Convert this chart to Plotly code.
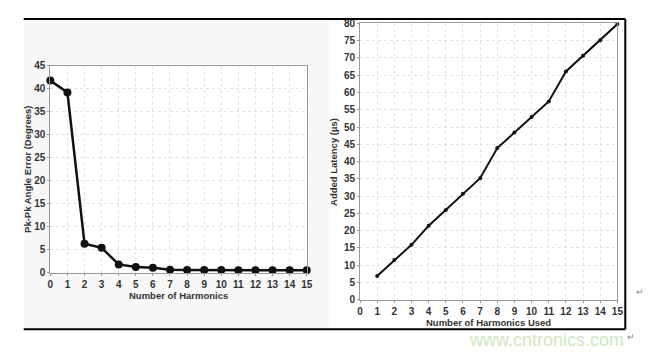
import plotly.graph_objects as go

harmonics = list(range(0, 16))
angle_error = [41.8, 39.2, 6.3, 5.4, 1.8, 1.25, 1.05, 0.65, 0.6, 0.6, 0.6, 0.55, 0.55, 0.5, 0.5, 0.5]

harmonics_used = list(range(1, 16))
latency = [6.9, 11.5, 15.9, 21.4, 26.0, 30.7, 35.2, 43.9, 48.4, 52.9, 57.4, 66.1, 70.6, 75.1, 79.8]

ticks = list(range(0, 16))

W, H = 652, 355
def px(x):
    return x / W
def py(y):
    return 1 - y / H

FONT = "Liberation Sans, Arial, sans-serif"
tickfont = dict(family=FONT, size=10, color="#333333", weight="bold")
titlefont = dict(family=FONT, size=9.5, color="#333333", weight="bold")

fig = go.Figure()
fig.add_trace(go.Scatter(
    x=harmonics, y=angle_error, mode="lines+markers",
    line=dict(color="#111111", width=2.5),
    marker=dict(color="#111111", size=8),
    cliponaxis=False, xaxis="x", yaxis="y", showlegend=False))
fig.add_trace(go.Scatter(
    x=harmonics_used, y=latency, mode="lines+markers",
    line=dict(color="#111111", width=2),
    marker=dict(color="#111111", size=4),
    cliponaxis=False, xaxis="x2", yaxis="y2", showlegend=False))

axis_common = dict(
    showline=True, mirror=True, linecolor="#9a9a9a", linewidth=1,
    showgrid=True, gridcolor="#e2e2e2", griddash="dot", gridwidth=1,
    zeroline=False, ticks="outside", ticklen=2, tickcolor="#9a9a9a",
    tickfont=tickfont,
)

fig.update_layout(
    width=W, height=H,
    margin=dict(l=0, r=0, t=0, b=0),
    paper_bgcolor="white", plot_bgcolor="rgba(0,0,0,0)",
    xaxis=dict(domain=[px(48), px(308)], range=[0, 15], tickvals=ticks,
               anchor="y", **axis_common),
    yaxis=dict(domain=[py(276), py(62)], range=[0, 45], dtick=5,
               anchor="x", **axis_common),
    xaxis2=dict(domain=[px(362), px(623)], range=[0, 15], tickvals=ticks,
                anchor="y2", **axis_common),
    yaxis2=dict(domain=[py(304), py(18)], range=[0, 80], dtick=5,
                anchor="x2", **axis_common),
)

shapes = [
    dict(type="rect", xref="paper", yref="paper", x0=px(21), x1=px(331),
         y0=py(334), y1=py(14), fillcolor="#f8f8f8", line=dict(width=0), layer="below"),
    dict(type="rect", xref="paper", yref="paper", x0=px(48), x1=px(308),
         y0=py(276), y1=py(62), fillcolor="white", line=dict(width=0), layer="below"),
    dict(type="line", xref="paper", yref="paper", x0=px(21), x1=px(631),
         y0=py(13.5), y1=py(13.5), line=dict(color="black", width=2)),
    dict(type="line", xref="paper", yref="paper", x0=px(21), x1=px(631),
         y0=py(334.5), y1=py(334.5), line=dict(color="black", width=2)),
    dict(type="line", xref="paper", yref="paper", x0=px(631), x1=px(631),
         y0=py(334.5), y1=py(13.5), line=dict(color="black", width=2)),
]
fig.update_layout(shapes=shapes)

annotations = [
    dict(text="Number of Harmonics", x=px(178), y=py(299.5), xref="paper", yref="paper",
         showarrow=False, font=titlefont, xanchor="center", yanchor="middle"),
    dict(text="Pk-Pk Angle Error (Degrees)", x=px(25), y=py(169), xref="paper", yref="paper",
         showarrow=False, font=titlefont, textangle=-90, xanchor="center", yanchor="middle"),
    dict(text="Number of Harmonics Used", x=px(492), y=py(328), xref="paper", yref="paper",
         showarrow=False, font=titlefont, xanchor="center", yanchor="middle"),
    dict(text="Added Latency (µs)", x=px(335), y=py(161), xref="paper", yref="paper",
         showarrow=False, font=titlefont, textangle=-90, xanchor="center", yanchor="middle"),
    dict(text="www.cntronics.com", x=px(551), y=py(346), xref="paper", yref="paper",
         showarrow=False, font=dict(family=FONT, size=18, color="#cfe8c0"),
         xanchor="center", yanchor="middle"),
    dict(text="↵", x=px(646), y=py(296), xref="paper", yref="paper",
         showarrow=False, font=dict(family=FONT, size=9, color="#888888"),
         xanchor="center", yanchor="middle"),
    dict(text="↵", x=px(637), y=py(343), xref="paper", yref="paper",
         showarrow=False, font=dict(family=FONT, size=9, color="#888888"),
         xanchor="center", yanchor="middle"),
]
fig.update_layout(annotations=annotations)

fig.write_html("out.html")
